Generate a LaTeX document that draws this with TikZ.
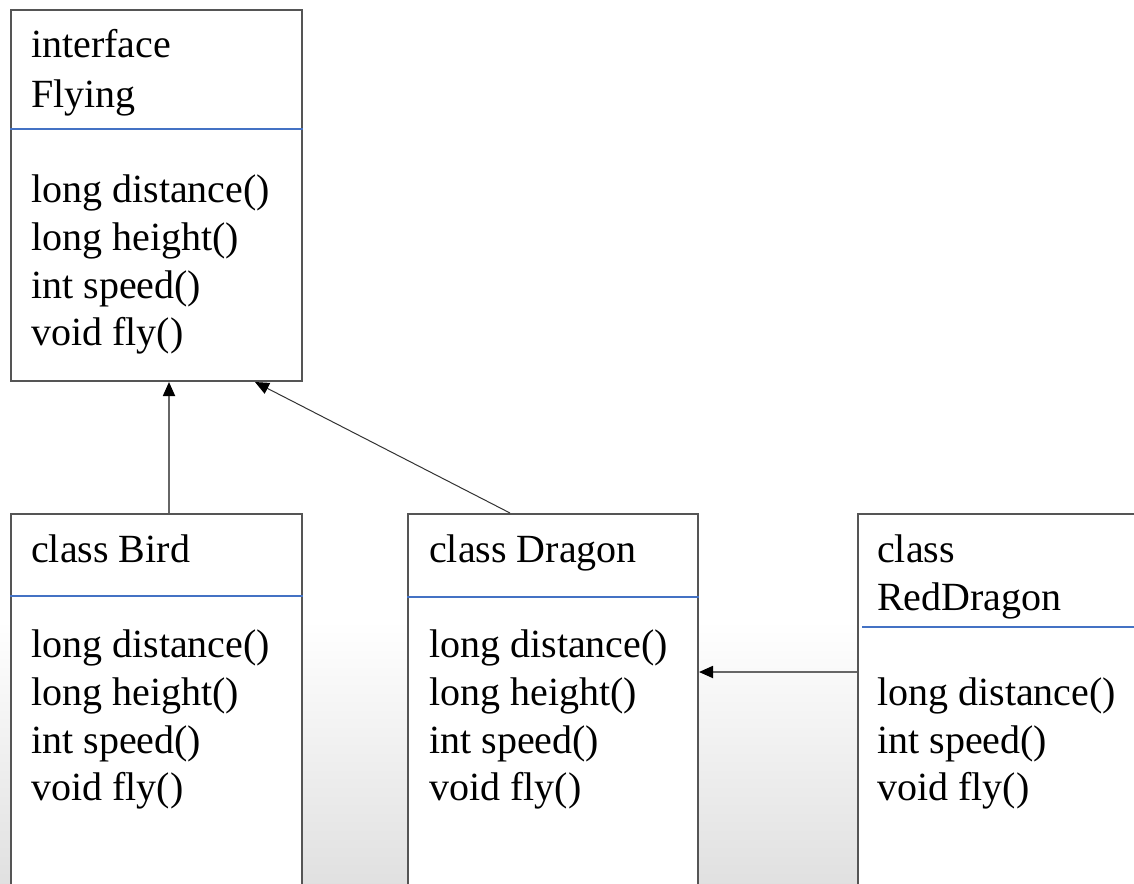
\documentclass[tikz,border=0pt]{standalone}
\usepackage{fontspec}
\setmainfont{Liberation Serif}
\usetikzlibrary{arrows.meta}
\definecolor{divblue}{RGB}{68,114,196}
\definecolor{boxgray}{RGB}{85,85,85}
\tikzset{
  umlbox/.style={draw=boxgray, line width=2pt, fill=white, rectangle, inner sep=0pt, anchor=north west},
  txt/.style={anchor=base west, inner sep=0pt, font=\fontsize{40}{48}\selectfont, text=black},
  divline/.style={draw=divblue, line width=1.6pt},
  arr/.style={draw=black!60, line width=1.8pt, -{Triangle[length=14pt,width=12pt,fill=black,color=black]}},
  thinarr/.style={draw=black!80, line width=1pt, -{Triangle[length=14pt,width=12pt,fill=black,color=black]}}
}
\begin{document}
\begin{tikzpicture}[x=1pt,y=-1pt]
\useasboundingbox (0,0) rectangle (1134,883);
\clip (0,0) rectangle (1134,883);
\fill[white] (0,0) rectangle (1134,883);
\shade[top color=white, bottom color=black!12] (0,620) rectangle (1134,883);

% boxes
\node[umlbox, minimum width=291pt, minimum height=371pt] (flying) at (10,9) {};
\node[umlbox, minimum width=291pt, minimum height=380pt] (bird) at (10,513) {};
\node[umlbox, minimum width=290pt, minimum height=380pt] (dragon) at (407,513) {};
\node[umlbox, minimum width=300pt, minimum height=380pt] (red) at (857,513) {};

% dividers
\draw[divline] ([yshift=-120pt]flying.north west) -- ([yshift=-120pt]flying.north east);
\draw[divline] ([yshift=-83pt]bird.north west) -- ([yshift=-83pt]bird.north east);
\draw[divline] ([yshift=-84pt]dragon.north west) -- ([yshift=-84pt]dragon.north east);
\draw[divline] ([xshift=5pt,yshift=-114pt]red.north west) -- ([yshift=-114pt]red.north east);

% Flying text
\node[txt] (f1) at (31,58) {interface};
\node[txt] (f2) at (31,107) {Flying};
\node[txt] (f3) at (31,202) {long distance()};
\node[txt] (f4) at (31,250) {long height()};
\node[txt] (f5) at (31,298) {int speed()};
\node[txt] (f6) at (31,345) {void fly()};

% Bird text
\node[txt] (b1) at (31,562) {class Bird};
\node[txt] (b2) at (31,657) {long distance()};
\node[txt] (b3) at (31,705) {long height()};
\node[txt] (b4) at (31,753) {int speed()};
\node[txt] (b5) at (31,800) {void fly()};

% Dragon text
\node[txt] (d1) at (429,562) {class Dragon};
\node[txt] (d2) at (429,657) {long distance()};
\node[txt] (d3) at (429,705) {long height()};
\node[txt] (d4) at (429,753) {int speed()};
\node[txt] (d5) at (429,800) {void fly()};

% RedDragon text
\node[txt] (r1) at (877,562) {class};
\node[txt] (r2) at (877,610) {RedDragon};
\node[txt] (r3) at (877,705) {long distance()};
\node[txt] (r4) at (877,753) {int speed()};
\node[txt] (r5) at (877,800) {void fly()};

% connectors
\draw[arr] ([xshift=159pt]bird.north west) -- ([xshift=159pt]flying.south west);
\draw[thinarr] ([xshift=103pt]dragon.north west) -- ([xshift=245pt]flying.south west);
\draw[arr] ([yshift=-159pt]red.north west) -- ([yshift=-159pt]dragon.north east);
\end{tikzpicture}
\end{document}
